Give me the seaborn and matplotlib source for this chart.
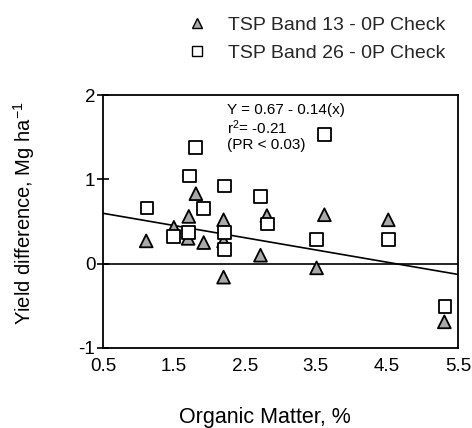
import pandas as pd
import matplotlib.pyplot as plt
import seaborn as sns
import numpy as np

# --- dades llegides del gràfic ---
LABEL_13 = 'TSP Band 13 - 0P Check'
LABEL_26 = 'TSP Band 26 - 0P Check'

om_13 = [1.11, 1.50, 1.71, 1.70, 1.81, 1.92, 2.20, 2.20, 2.20, 2.72, 2.81, 3.51, 3.62, 4.52, 5.31]
diff_13 = [0.27, 0.43, 0.56, 0.30, 0.83, 0.25, 0.52, 0.27, -0.16, 0.10, 0.57, -0.05, 0.58, 0.52, -0.69]

om_26 = [1.12, 1.50, 1.72, 1.71, 1.81, 1.92, 2.21, 2.21, 2.21, 2.72, 2.82, 3.51, 3.62, 4.52, 5.32]
diff_26 = [0.66, 0.32, 1.04, 0.37, 1.38, 0.65, 0.92, 0.37, 0.17, 0.80, 0.47, 0.29, 1.53, 0.29, -0.51]

INTERCEPT = 0.67
SLOPE = -0.145
X_RANGE = [0.5, 5.5]

df = pd.DataFrame({
    'om': om_13 + om_26,
    'diff': diff_13 + diff_26,
    'tractament': [LABEL_13] * len(om_13) + [LABEL_26] * len(om_26),
})

# --- estil ---
sns.set_theme(style="white")
plt.rcParams['font.family'] = ['Liberation Sans', 'DejaVu Sans']
plt.rcParams['mathtext.fontset'] = 'custom'
plt.rcParams['mathtext.rm'] = 'Liberation Sans'
plt.rcParams['mathtext.it'] = 'Liberation Sans:italic'
plt.rcParams['axes.edgecolor'] = 'black'
plt.rcParams['axes.linewidth'] = 1.3

fig = plt.figure(figsize=(4.72, 4.28), dpi=100)
ax = fig.add_axes([0.218, 0.187, 0.752, 0.591])

# línia de zero i recta de regressió
ax.axhline(0, color='black', linewidth=1.2, zorder=1)
xs = np.array(X_RANGE)
ax.plot(xs, INTERCEPT + SLOPE * xs, color='black', linewidth=1.2, zorder=1)

sns.scatterplot(
    data=df, x='om', y='diff',
    hue='tractament', style='tractament',
    palette={LABEL_13: '#a9a9a9', LABEL_26: 'white'},
    markers={LABEL_13: '^', LABEL_26: 's'},
    s=85, edgecolor='black', linewidth=1.3,
    ax=ax, zorder=3,
)

handles, labels = ax.get_legend_handles_labels()
ax.get_legend().remove()
for h in handles:
    try:
        h.set_markeredgecolor('black')
        h.set_markeredgewidth(1.0)
        h.set_markersize(7.5)
    except AttributeError:
        pass
fig.legend(handles, labels, loc='upper left', bbox_to_anchor=(0.397, 0.962),
           frameon=False, fontsize=14, handlelength=1.0, handletextpad=1.1,
           labelspacing=0.55, borderpad=0, borderaxespad=0)

ax.set_xlim(0.5, 5.5)
ax.set_ylim(-1, 2)
ax.set_xticks([0.5, 1.5, 2.5, 3.5, 4.5, 5.5])
ax.set_xticklabels(['0.5', '1.5', '2.5', '3.5', '4.5', '5.5'])
ax.set_yticks([-1, 0, 1, 2])
ax.set_yticklabels(['-1', '0', '1', '2'])
ax.tick_params(axis='x', length=0, pad=7, labelsize=13.5, colors='black')
ax.tick_params(axis='y', direction='inout', length=9, width=1.2, pad=1, labelsize=13.5, colors='black')
ax.tick_params(axis='y', left=True)

ax.set_xlabel('Organic Matter, %', fontsize=15.5, color='black')
ax.xaxis.set_label_coords(0.456, -0.233)
ax.set_ylabel('Yield difference, Mg ha$^{-1}$', fontsize=14.5, color='black')
ax.yaxis.set_label_coords(-0.186, 0.534)

ax.text(0.349, 0.968, 'Y = 0.67 - 0.14(x)\nr$^{2}$= -0.21\n(PR < 0.03)',
        transform=ax.transAxes, ha='left', va='top', fontsize=11,
        linespacing=1.1, color='black')

for side in ['top', 'right', 'left', 'bottom']:
    ax.spines[side].set_visible(True)

plt.savefig('out.png', dpi=100)
